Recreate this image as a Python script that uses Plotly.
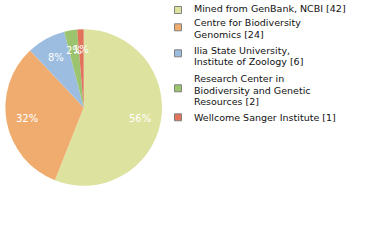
import math
import plotly.graph_objects as go

labels = ["Mined from GenBank, NCBI", "Centre for Biodiversity Genomics",
          "Ilia State University, Institute of Zoology",
          "Research Center in Biodiversity and Genetic Resources",
          "Wellcome Sanger Institute"]
legend_lines = [["Mined from GenBank, NCBI [42]"],
                ["Centre for Biodiversity", "Genomics [24]"],
                ["Ilia State University,", "Institute of Zoology [6]"],
                ["Research Center in", "Biodiversity and Genetic", "Resources [2]"],
                ["Wellcome Sanger Institute [1]"]]
values = [42, 24, 6, 2, 1]
colors = ["#dde29e", "#efac6e", "#9dbde0", "#9cc46e", "#e0735a"]

W, H = 380, 240
total = sum(values)
pct = [f"{int(v * 100 / total)}%" for v in values]

# pie geometry (pixels)
cx, cy, R = 83.7, 107.5, 78.3

fig = go.Figure(go.Pie(
    labels=labels, values=values, sort=False, direction="clockwise", rotation=0,
    marker=dict(colors=colors, line=dict(width=0)),
    textinfo="none",
    domain=dict(x=[(cx - R) / W, (cx + R) / W], y=[1 - (cy + R) / H, 1 - (cy - R) / H]),
    showlegend=False, hoverinfo="label+value",
))

annots, shapes = [], []
# percentage labels along slice mid-angles
cum = 0
for v, p in zip(values, pct):
    th = 2 * math.pi * (cum + v / 2) / total
    cum += v
    r = 0.735 * R
    px, py = cx + r * math.sin(th), cy - r * math.cos(th)
    annots.append(dict(text=p, xref="paper", yref="paper", x=px / W, y=1 - py / H,
                       xanchor="center", yanchor="middle", showarrow=False,
                       font=dict(size=10, family="DejaVu Sans", color="white")))

# custom legend
line_h = 11.7
starts = [9, 22.7, 50, 78.3, 117.3]
marks = [10, 27.3, 53.3, 88.3, 117.3]
for i, lines in enumerate(legend_lines):
    y0 = starts[i]
    my = marks[i]
    shapes.append(dict(type="rect", xref="paper", yref="paper",
                       x0=174.5 / W, x1=181.5 / W, y0=1 - (my + 3.5) / H, y1=1 - (my - 3.5) / H,
                       fillcolor=colors[i], line=dict(color="#808080", width=1)))
    for j, t in enumerate(lines):
        annots.append(dict(text=t, xref="paper", yref="paper", x=192 / W,
                           y=1 - (y0 + j * line_h) / H, xanchor="left", yanchor="middle",
                           showarrow=False,
                           font=dict(size=9.5, family="DejaVu Sans", color="#111111")))

fig.update_layout(width=W, height=H, margin=dict(l=0, r=0, t=0, b=0),
                  paper_bgcolor="white", plot_bgcolor="white",
                  shapes=shapes, annotations=annots)
fig.write_html("out.html")
